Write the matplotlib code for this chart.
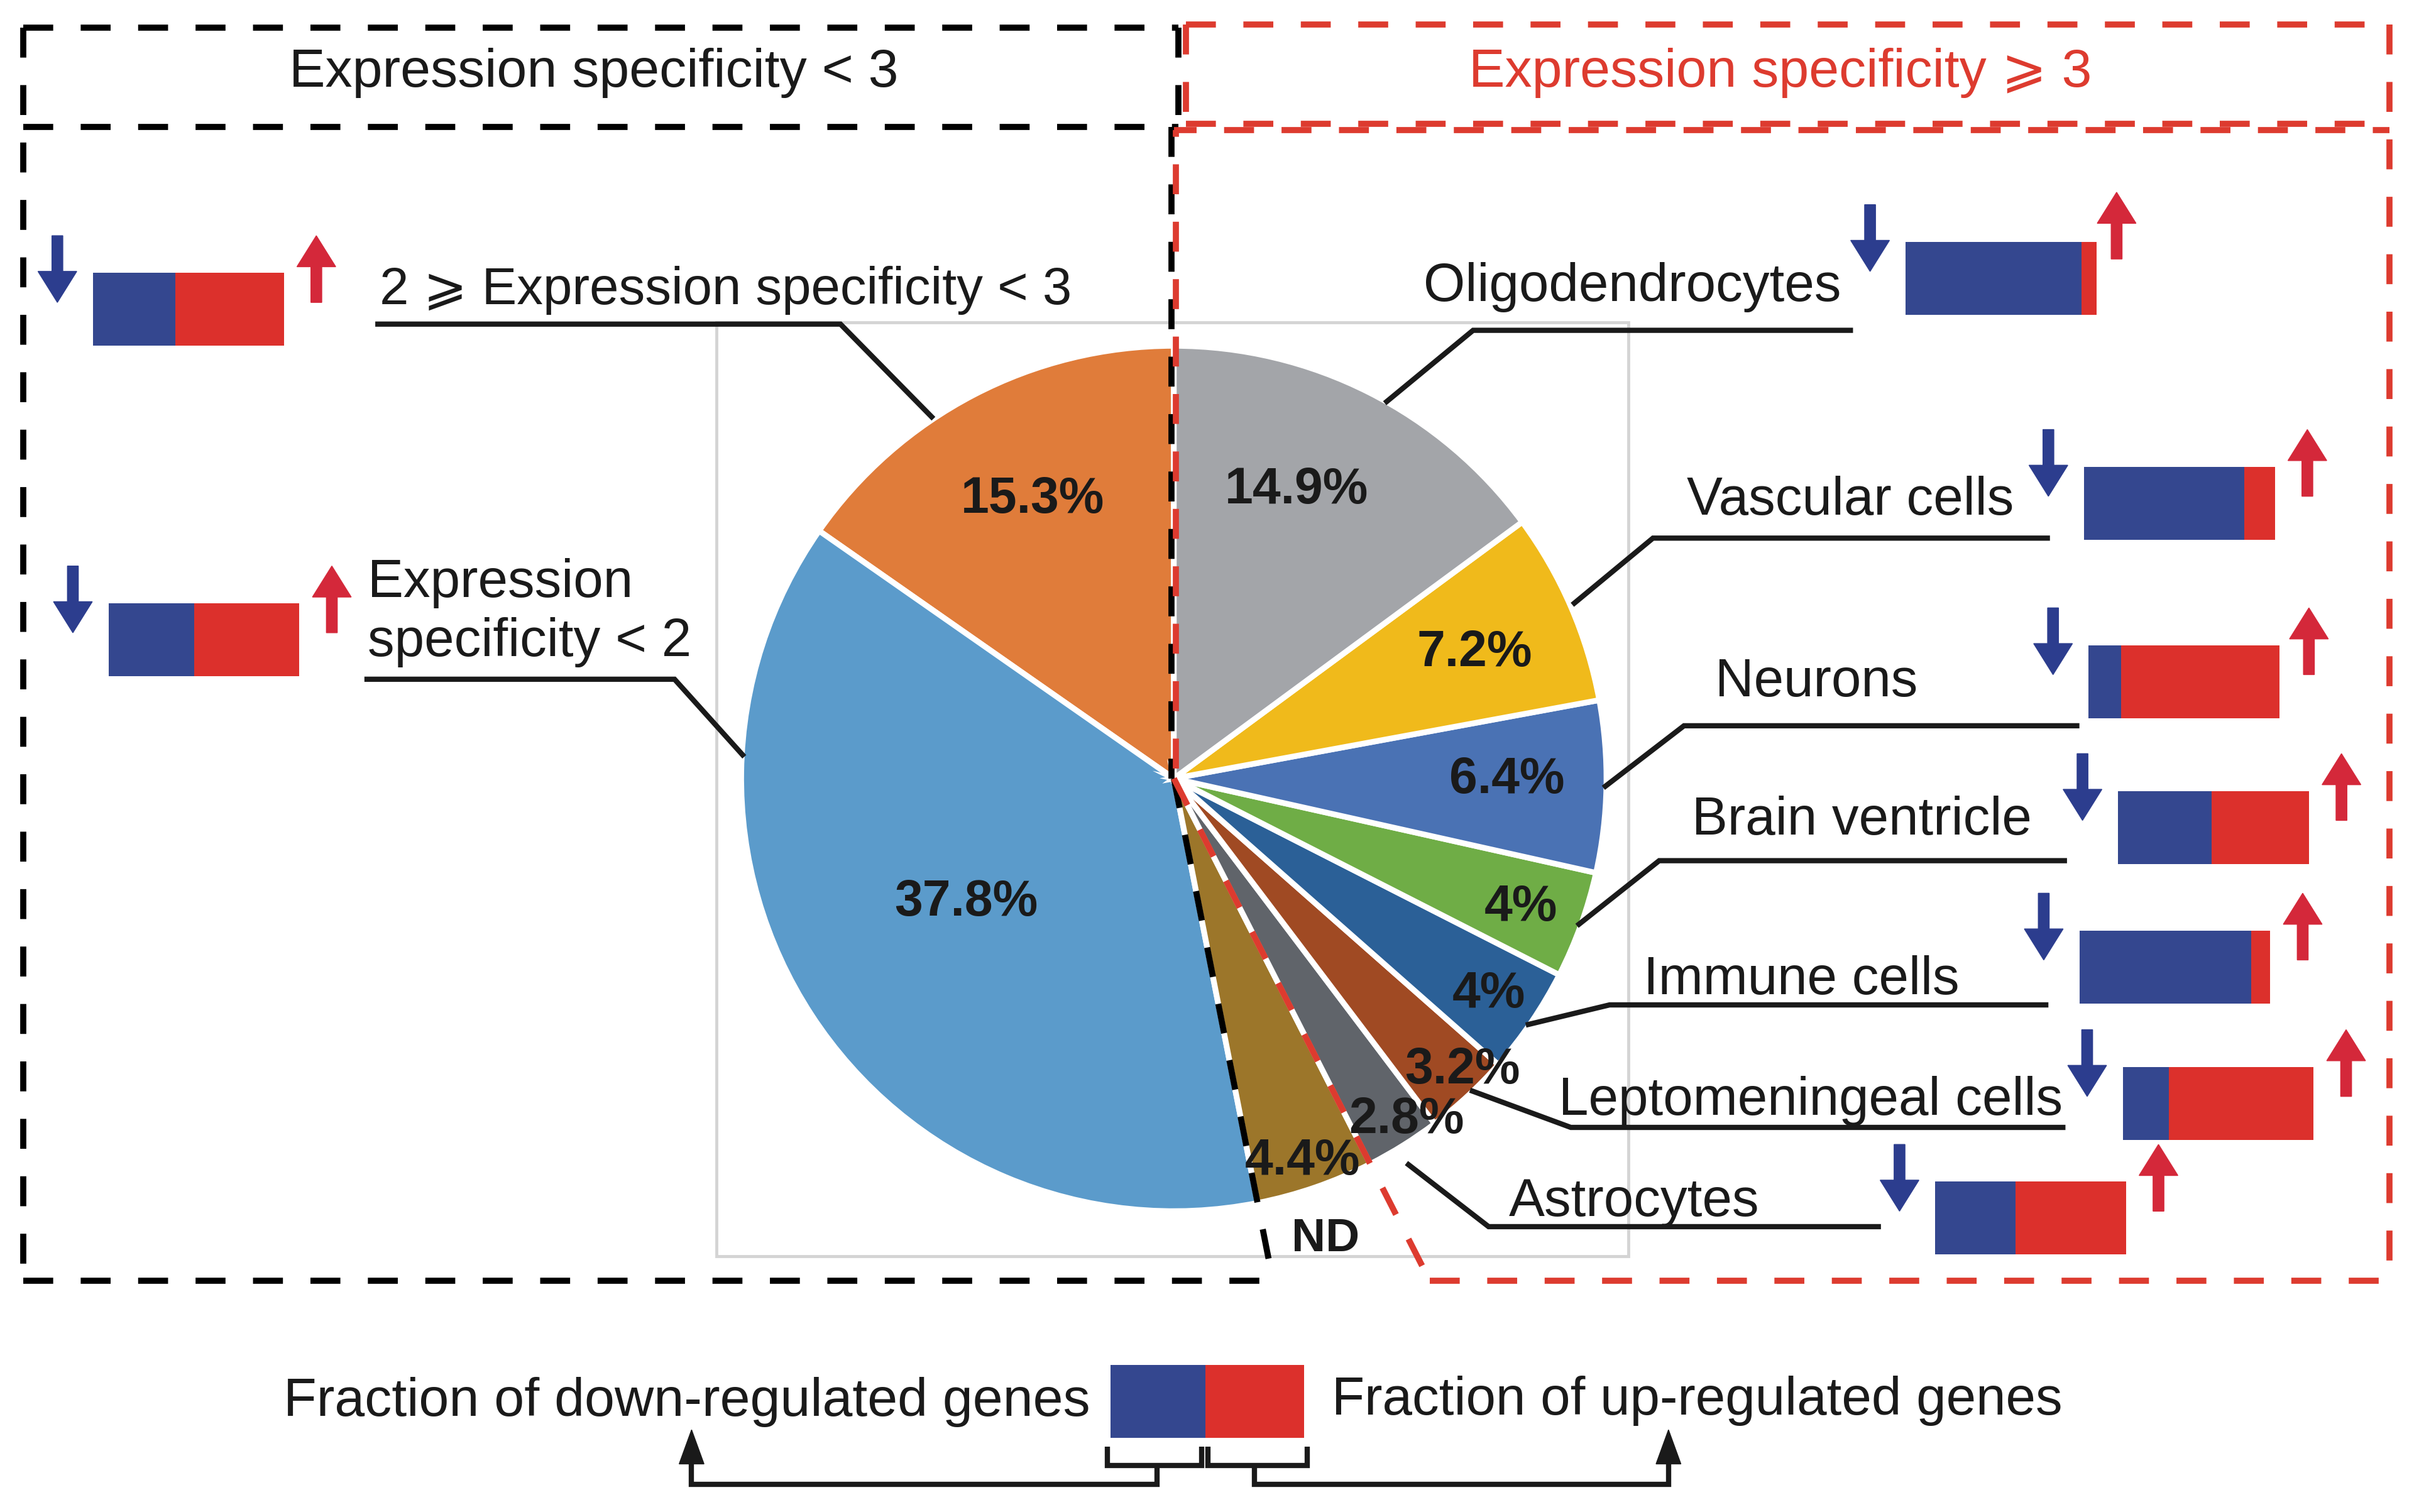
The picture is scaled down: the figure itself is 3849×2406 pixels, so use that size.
import numpy as np
import matplotlib.pyplot as plt
from matplotlib.patches import Rectangle

plt.rcParams['font.family'] = ['Liberation Sans', 'DejaVu Sans']

# pie slices, counter-clockwise from 12 o'clock
slice_names = ['2 ⩾ Expression specificity < 3', 'Expression specificity < 2', 'ND',
               'Astrocytes', 'Leptomeningeal cells', 'Immune cells', 'Brain ventricle',
               'Neurons', 'Vascular cells', 'Oligodendrocytes']
slice_pct = [15.3, 37.8, 4.4, 2.8, 3.2, 4.0, 4.0, 6.4, 7.2, 14.9]
pct_labels = ['15.3%', '37.8%', '4.4%', '2.8%', '3.2%', '4%', '4%', '6.4%', '7.2%', '14.9%']
slice_colors = ['#E07C3A', '#5B9BCB', '#9C762A', '#60646A', '#A04A23',
                '#2B6097', '#6FAD46', '#4A72B4', '#F0BA1B', '#A3A5A9']

# fraction of down-regulated genes in each group (the rest is up-regulated)
group_names = ['2 ⩾ Expression specificity < 3', 'Expression specificity < 2',
               'Oligodendrocytes', 'Vascular cells', 'Neurons', 'Brain ventricle',
               'Immune cells', 'Leptomeningeal cells', 'Astrocytes']
down_frac = [0.43, 0.45, 0.92, 0.84, 0.17, 0.49, 0.90, 0.24, 0.42]
legend_down = 0.49

BLUE, RED = '#34478F', '#DC302C'
ARR_BLUE, ARR_RED = '#2C3D8E', '#D4283A'
TXT = '#1a1a1a'
HRED = '#DD3B2F'

W, H = 1560, 975  # drawing units (y grows downwards)
fig = plt.figure(figsize=(38.49, 24.06), dpi=100)
ax = fig.add_axes([0, 0, 1, 1])

# ---- pie ----
cx, cy, R = 757, 502, 279
ax.add_patch(Rectangle((462, 208), 588, 602, fill=False, ec='#D4D4D4', lw=3.5, zorder=0.5))
ax.pie(slice_pct, colors=slice_colors, startangle=-90, counterclock=False,
       center=(cx, cy), radius=R, wedgeprops=dict(edgecolor='white', linewidth=6.5))
ax.set_aspect('auto')
ax.set_xlim(0, W)
ax.set_ylim(H, 0)
ax.axis('off')

pct_pos = [(666, 322), (623, 582), (840, 749), (907, 722), (943, 690),
           (960, 641), (981, 585), (972, 503), (951, 421), (836, 316)]
for (x, y), t in zip(pct_pos, pct_labels):
    ax.text(x, y, t, fontsize=58, fontweight='bold', color=TXT, ha='center', va='center', zorder=8)
ax.text(855, 799, 'ND', fontsize=54, fontweight='bold', color=TXT, ha='center', va='center', zorder=8)

# ---- dashed frames ----
def dash(xs, ys, color, off=0):
    ax.plot(xs, ys, color=color, lw=7, linestyle=(off, (4.9, 4.5)),
            dash_capstyle='butt', zorder=6)

cum = np.cumsum(slice_pct) / 100.0
def ray_end(frac, y_end):
    phi = np.deg2rad(90 + 360 * frac)
    dx, dy = np.cos(phi), -np.sin(phi)
    t = (y_end - cy) / dy
    return cx + t * dx

YB = 826
RX = 1541
xb = ray_end(cum[1], YB)   # end of "< 3" group
xr = ray_end(cum[2], YB)   # end of ND slice

dash([15, 760], [18, 18], 'black')
dash([15, 15], [18, YB], 'black')
dash([15, 760], [82, 82], 'black')
dash([760, 760], [18, 82], 'black')
dash([cx - 1.5, cx - 1.5], [82, cy], 'black')
dash([cx, xb], [cy, YB], 'black')
dash([15, xb], [YB, YB], 'black')

dash([765, RX], [16, 16], HRED)
dash([765, 765], [16, 80], HRED)
dash([765, RX], [80, 80], HRED)
dash([cx, RX], [84, 84], HRED, off=20)
dash([RX, RX], [16, YB], HRED)
dash([xr, RX], [YB, YB], HRED)
dash([cx + 1.5, cx + 1.5], [84, cy], HRED, off=32)
dash([cx, xr], [cy, YB], HRED)

ax.text(383, 56, 'Expression specificity < 3', fontsize=62, color=TXT, ha='center', va='baseline')
ax.text(1148, 56, 'Expression specificity ⩾ 3', fontsize=62, color=HRED, ha='center', va='baseline')

# ---- group labels with leader lines ----
labels = [
    ('2 ⩾ Expression specificity < 3', 245, 196, [(242, 209), (542, 209), (602, 270)]),
    ('Expression', 237, 385, None),
    ('specificity < 2', 237, 423, [(235, 438), (435, 438), (480, 488)]),
    ('Oligodendrocytes', 918, 194, [(1195, 213), (950, 213), (893, 260)]),
    ('Vascular cells', 1088, 332, [(1322, 347), (1066, 347), (1014, 390)]),
    ('Neurons', 1106, 449, [(1341, 468), (1086, 468), (1034, 508)]),
    ('Brain ventricle', 1091, 538, [(1333, 555), (1070, 555), (1017, 597)]),
    ('Immune cells', 1060, 641, [(1321, 648), (1038, 648), (984, 661)]),
    ('Leptomeningeal cells', 1005, 719, [(1332, 727), (1013, 727), (948, 703)]),
    ('Astrocytes', 973, 784, [(1213, 791), (960, 791), (907, 750)]),
]
for txt, x, y, pts in labels:
    fs = 60 if txt.startswith('2') else 61.5
    ax.text(x, y, txt, fontsize=fs, color=TXT, ha='left', va='baseline', zorder=7)
    if pts:
        px, py = zip(*pts)
        ax.plot(px, py, color=TXT, lw=6, solid_capstyle='butt', solid_joinstyle='miter', zorder=7)

# ---- up/down bars ----
bar_pos = [(60, 176), (70, 389), (1229, 156), (1344, 301), (1347, 416),
           (1366, 510), (1341, 600), (1369, 688), (1248, 762)]
up_shift = [(21, 0), (21, 0), (13, -8), (21, 0), (19, 0), (21, 0), (21, 0), (21, 0), (21, 0)]
BW, BH = 123, 47
for (x0, y0), (ux, uy), f in zip(bar_pos, up_shift, down_frac):
    yc = y0 + BH / 2
    ax.barh(yc, f * BW, left=x0, height=BH, color=BLUE, zorder=4)
    ax.barh(yc, (1 - f) * BW, left=x0 + f * BW, height=BH, color=RED, zorder=4)
    ax.arrow(x0 - 23, y0 - 24, 0, 43, width=7, head_width=25, head_length=20,
             length_includes_head=True, color=ARR_BLUE, zorder=4)
    ax.arrow(x0 + BW + ux, y0 + 19 + uy, 0, -43, width=7, head_width=25, head_length=20,
             length_includes_head=True, color=ARR_RED, zorder=4)

# ---- legend ----
lx, ly, lw_ = 716, 880, 125
ax.barh(ly + 23.5, legend_down * lw_, left=lx, height=47, color=BLUE)
ax.barh(ly + 23.5, (1 - legend_down) * lw_, left=lx + legend_down * lw_, height=47, color=RED)
ax.text(703, 913, 'Fraction of down-regulated genes', fontsize=62, color=TXT, ha='right', va='baseline')
ax.text(859, 912, 'Fraction of up-regulated genes', fontsize=61.5, color=TXT, ha='left', va='baseline')

for xs, ys in [([714, 714, 775, 775], [933, 945, 945, 933]),
               ([779, 779, 843, 843], [933, 945, 945, 933]),
               ([746, 746, 446, 446], [945, 957, 957, 940]),
               ([809, 809, 1076, 1076], [945, 957, 957, 940])]:
    ax.plot(xs, ys, color=TXT, lw=6, solid_joinstyle='miter', solid_capstyle='butt')
for x in (446, 1076):
    ax.arrow(x, 948, 0, -26, width=0.1, head_width=16, head_length=22,
             length_includes_head=True, color=TXT)

fig.savefig('out.png', dpi=100)
